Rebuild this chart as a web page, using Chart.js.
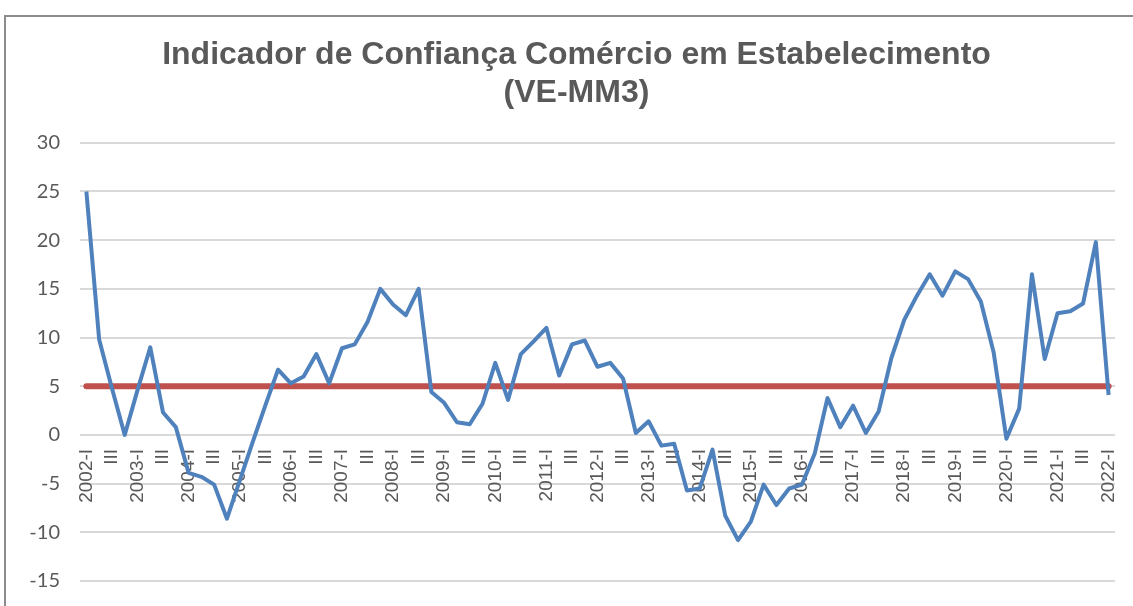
<!DOCTYPE html>
<html>
<head>
<meta charset="utf-8">
<script src="https://cdn.jsdelivr.net/npm/chart.js@4"></script>
<style>
  body { margin: 0; background: #fff; overflow: hidden; }
  #frame { position: absolute; left: 4px; top: 15px; width: 1200px; height: 700px;
           border-top: 2px solid #8c8c8c; border-left: 2px solid #8c8c8c; }
  #chart { position: absolute; left: 0; top: 0; }
</style>
</head>
<body>
<div id="frame"></div>
<canvas id="chart" width="1133" height="606"></canvas>
<script>
// quarters, Excel style: year on the first quarter, roman numeral otherwise
const categories = [
  "2002-I","II","III","IV","2003-I","II","III","IV","2004-I","II","III","IV",
  "2005-I","II","III","IV","2006-I","II","III","IV","2007-I","II","III","IV",
  "2008-I","II","III","IV","2009-I","II","III","IV","2010-I","II","III","IV",
  "2011-I","II","III","IV","2012-I","II","III","IV","2013-I","II","III","IV",
  "2014-I","II","III","IV","2015-I","II","III","IV","2016-I","II","III","IV",
  "2017-I","II","III","IV","2018-I","II","III","IV","2019-I","II","III","IV",
  "2020-I","II","III","IV","2021-I","II","III","IV","2022-I"
];

const indicador = [
  25.0, 9.8, 4.8, 0.0, 4.6, 9.0, 2.3, 0.8, -3.9, -4.3, -5.1, -8.6,
  -4.7, -0.8, 3.0, 6.7, 5.3, 6.0, 8.3, 5.3, 8.9, 9.3, 11.6, 15.0,
  13.4, 12.3, 15.0, 4.4, 3.3, 1.3, 1.1, 3.2, 7.4, 3.6, 8.3, 9.6,
  11.0, 6.1, 9.3, 9.7, 7.0, 7.4, 5.8, 0.2, 1.4, -1.1, -0.9, -5.7,
  -5.5, -1.5, -8.3, -10.8, -8.9, -5.1, -7.2, -5.5, -5.1, -1.9, 3.8, 0.8,
  3.0, 0.2, 2.4, 7.9, 11.8, 14.3, 16.5, 14.3, 16.8, 16.0, 13.7, 8.5,
  -0.4, 2.7, 16.5, 7.8, 12.5, 12.7, 13.5, 19.8, 4.1
];

// reference level drawn in red
const referencia = categories.map(() => 5);

const yTicks = [30, 25, 20, 15, 10, 5, 0, -5, -10, -15];

const titleLines = ["Indicador de Confiança Comércio em Estabelecimento", "(VE-MM3)"];

new Chart(document.getElementById("chart"), {
  type: "line",
  data: {
    labels: categories,
    datasets: [{
      label: "Indicador",
      data: indicador,
      borderColor: "#4f81bd",
      borderWidth: 4,
      pointRadius: 0,
      borderJoinStyle: "round",
      tension: 0,
      order: 1
    }, {
      label: "Referência",
      data: referencia,
      borderColor: "#c0504d",
      borderWidth: 6,
      pointRadius: 0,
      borderCapStyle: "round",
      tension: 0,
      order: 2
    }]
  },
  options: {
    responsive: false,
    animation: false,
    layout: { padding: { left: 26, right: 6, top: 0, bottom: 25 } },
    plugins: {
      legend: { display: false },
      tooltip: { enabled: false },
      title: {
        display: true,
        text: titleLines,
        color: "#595959",
        font: { family: "'Liberation Sans', Arial, sans-serif", size: 32, weight: "bold", lineHeight: 1.2 },
        padding: { top: 36, bottom: 30 }
      }
    },
    scales: {
      x: {
        position: { y: 0 },
        offset: true,
        grid: { display: false, drawTicks: false },
        border: { display: false },
        // labels sit on the zero line, so this axis takes no room of its own
        afterFit: (s) => {
          s.height = 0;
          s.paddingLeft = 0; s.paddingRight = 0; s.paddingTop = 0; s.paddingBottom = 0;
        },
        ticks: {
          autoSkip: false,
          minRotation: 90,
          maxRotation: 90,
          padding: 14,
          color: "#595959",
          font: { family: "'Liberation Sans', Arial, sans-serif", size: 19 },
          callback: (v, i) => (i % 2 === 0 ? categories[i] : "")
        }
      },
      y: {
        min: -15,
        max: 30,
        afterBuildTicks: (axis) => { axis.ticks = yTicks.map(v => ({ value: v })); },
        afterFit: (s) => { s.width = 54; s.paddingTop = 0; s.paddingBottom = 0; },
        grid: { color: "#d9d9d9", lineWidth: 2, drawTicks: false },
        border: { display: false },
        ticks: {
          padding: 20,
          color: "#595959",
          font: { family: "Lato, 'Liberation Sans', sans-serif", size: 20 }
        }
      },
      // empty strip on the right, keeps the title centred like the original
      yRight: {
        position: "right",
        grid: { display: false },
        border: { display: false },
        ticks: { display: false },
        afterFit: (s) => { s.width = 12; s.paddingTop = 0; s.paddingBottom = 0; }
      }
    }
  }
});
</script>
</body>
</html>
